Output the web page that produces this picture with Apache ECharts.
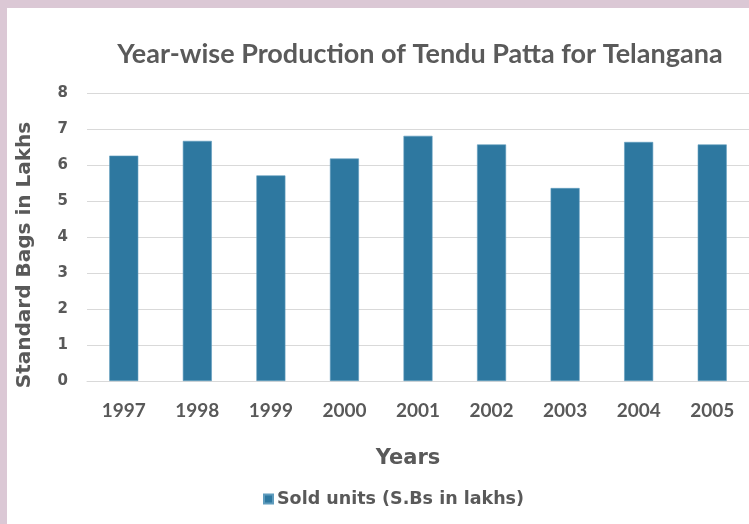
<!DOCTYPE html>
<html><head><meta charset="utf-8">
<script src="https://cdn.jsdelivr.net/npm/echarts@6/dist/echarts.min.js"></script>
<style>html,body{margin:0;padding:0;background:#fff}#c{width:749px;height:524px}</style>
</head><body><div id="c"></div>
<script>
const categories = ['1997','1998','1999','2000','2001','2002','2003','2004','2005'];
const soldUnits = [6.26, 6.67, 5.71, 6.18, 6.81, 6.57, 5.36, 6.64, 6.57];
const yTicks = [0, 8, 1];
const seriesName = 'Sold units (S.Bs in lakhs)';
const titleText = 'Year-wise Production of Tendu Patta for Telangana';

const chart = echarts.init(document.getElementById('c'), null, {renderer: 'canvas'});
const FONT = 'Lato';
const BOLDFONT = 'DejaVu Sans';
chart.setOption({
  animation: false,
  backgroundColor: '#ffffff',
  title: {
    text: titleText, left: 415, top: 36, textAlign: 'center',
    textStyle: {fontFamily: FONT, fontSize: 27, fontWeight: 'bold', color: '#5a5a5a'}
  },
  legend: {
    data: [seriesName], top: 485, left: 258, itemWidth: 9, itemHeight: 9, itemGap: 4,
    icon: 'rect',
    textStyle: {fontFamily: BOLDFONT, fontSize: 17.5, fontWeight: 'bold', color: '#595959', padding: [0,0,0,-1]}
  },
  grid: {left: 87, right: -4, top: 93, bottom: 143, containLabel: false},
  xAxis: {
    type: 'category', data: categories,
    name: 'Years', nameLocation: 'middle', nameGap: 67,
    nameTextStyle: {fontFamily: BOLDFONT, fontSize: 21, fontWeight: 'bold', color: '#595959', padding: [0, 20, 0, 0]},
    axisLine: {lineStyle: {color: '#d9d9d9', width: 1}},
    axisTick: {show: false},
    axisLabel: {margin: 20, fontFamily: FONT, fontSize: 19, fontWeight: 'bold', color: '#595959'}
  },
  yAxis: {
    type: 'value', min: yTicks[0], max: yTicks[1], interval: yTicks[2],
    name: 'Standard Bags in Lakhs', nameLocation: 'middle', nameGap: 52,
    nameTextStyle: {fontFamily: BOLDFONT, fontSize: 20, fontWeight: 'bold', color: '#595959', padding: [0, 36, 0, 0]},
    axisLine: {show: false}, axisTick: {show: false},
    axisLabel: {margin: 19, fontFamily: BOLDFONT, fontSize: 15, fontWeight: 'bold', color: '#595959'},
    splitLine: {lineStyle: {color: '#d9d9d9', width: 1}}
  },
  series: [{
    name: seriesName, type: 'bar', data: soldUnits, barWidth: 29,
    itemStyle: {color: '#2e78a0', borderColor: '#5f9cbd', borderWidth: 0.6}
  }],
  graphic: [
    {type: 'rect', left: 0, top: 0, shape: {width: 749, height: 8}, style: {fill: '#dbc8d5'}, z: 100},
    {type: 'rect', left: 0, top: 0, shape: {width: 7, height: 524}, style: {fill: '#dbc8d5'}, z: 100}
  ]
});
</script></body></html>
